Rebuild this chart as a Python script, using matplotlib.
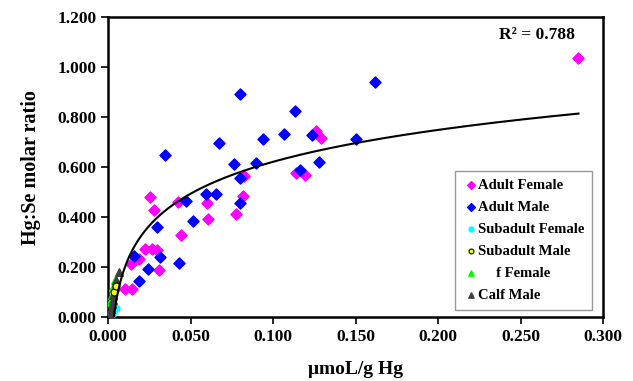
import numpy as np
import matplotlib
matplotlib.use('Agg')
import matplotlib.pyplot as plt

plt.rcParams['font.family'] = ['Liberation Serif', 'DejaVu Serif']
plt.rcParams['font.weight'] = 'bold'

# data (umol/g Hg, Hg:Se molar ratio)
adult_female_x = [0.0255, 0.0275, 0.0424, 0.0598, 0.0602, 0.0439, 0.0773, 0.0818, 0.0822,
                  0.126, 0.129, 0.1136, 0.1195, 0.022, 0.0267, 0.0298, 0.0185, 0.0137,
                  0.031, 0.0104, 0.0145, 0.285]
adult_female_y = [0.480, 0.430, 0.462, 0.456, 0.394, 0.330, 0.414, 0.484, 0.564,
                  0.743, 0.718, 0.576, 0.568, 0.271, 0.274, 0.267, 0.232, 0.212,
                  0.190, 0.111, 0.111, 1.036]

adult_male_x = [0.0796, 0.1132, 0.0343, 0.0673, 0.0938, 0.1063, 0.1236, 0.128, 0.1165,
                0.0898, 0.0765, 0.0796, 0.0796, 0.0592, 0.0653, 0.0473, 0.0514, 0.0296,
                0.0312, 0.0155, 0.024, 0.0188, 0.043, 0.1614, 0.150]
adult_male_y = [0.894, 0.824, 0.650, 0.696, 0.714, 0.734, 0.730, 0.620, 0.590,
                0.616, 0.611, 0.556, 0.456, 0.491, 0.491, 0.464, 0.386, 0.360,
                0.240, 0.246, 0.192, 0.144, 0.218, 0.939, 0.711]

subadult_female_x = [0.002, 0.003, 0.0045]
subadult_female_y = [0.010, 0.025, 0.035]

subadult_male_x = [0.0036, 0.0045]
subadult_male_y = [0.100, 0.125]

f_female_x = [0.001, 0.002, 0.003, 0.004]
f_female_y = [0.060, 0.090, 0.120, 0.147]

calf_male_x = [0.001, 0.0015, 0.002, 0.0026, 0.003, 0.004, 0.005, 0.0067]
calf_male_y = [0.010, 0.030, 0.050, 0.070, 0.090, 0.120, 0.150, 0.180]

# logarithmic trend line y = a*ln(x) + b
fit_a = 0.184
fit_b = 1.045
r2_text = 'R² = 0.788'

x_ticks = [0.0, 0.05, 0.1, 0.15, 0.2, 0.25, 0.3]
y_ticks = [0.0, 0.2, 0.4, 0.6, 0.8, 1.0, 1.2]

fig = plt.figure(figsize=(6.33, 3.81), dpi=100)
ax = fig.add_axes([0.171, 0.168, 0.782, 0.787])

ax.scatter(adult_female_x, adult_female_y, marker='D', s=32, color='#FF00FF',
           label='Adult Female', zorder=3)
ax.scatter(adult_male_x, adult_male_y, marker='D', s=32, color='#0000FF',
           label='Adult Male', zorder=3)
ax.scatter(subadult_female_x, subadult_female_y, marker='o', s=25, color='#00FFFF',
           label='Subadult Female', zorder=3)
ax.scatter(subadult_male_x, subadult_male_y, marker='o', s=25, color='#FFFF00',
           edgecolors='black', linewidths=0.8, label='Subadult Male', zorder=4)
ax.scatter(f_female_x, f_female_y, marker='^', s=30, color='#00FF00',
           label='     f Female', zorder=3)
ax.scatter(calf_male_x, calf_male_y, marker='^', s=30, color='#404040',
           label='Calf Male', zorder=3)

all_x = adult_female_x + adult_male_x + subadult_female_x + subadult_male_x + f_female_x + calf_male_x
xs = np.linspace(min(all_x), max(all_x), 400)
ax.plot(xs, fit_a * np.log(xs) + fit_b, color='black', lw=1.5, zorder=5)

ax.set_xlim(0, 0.3)
ax.set_ylim(0, 1.2)
ax.set_xticks(x_ticks)
ax.set_yticks(y_ticks)
ax.set_xticklabels(['%.3f' % v for v in x_ticks])
ax.set_yticklabels(['%.3f' % v for v in y_ticks])
ax.tick_params(direction='out', length=5, width=1.2, labelsize=12.5)
for s in ax.spines.values():
    s.set_linewidth(1.8)

ax.set_ylabel('Hg:Se molar ratio', fontsize=14.5, fontweight='bold', labelpad=12)
ax.set_xlabel('μmoL/g Hg', fontsize=14, fontweight='bold', labelpad=12)

ax.text(0.867, 0.94, r2_text, transform=ax.transAxes, fontsize=12.5,
        fontweight='bold', ha='center', va='center')

leg = ax.legend(loc='lower right', bbox_to_anchor=(0.978, 0.023), borderaxespad=0,
                fontsize=10.5, frameon=True, fancybox=False, edgecolor='#808080',
                handletextpad=0.0, handlelength=1.0, markerscale=0.7,
                labelspacing=0.6, borderpad=0.55)
leg.get_frame().set_linewidth(1.0)

fig.savefig('out.png', dpi=100)
